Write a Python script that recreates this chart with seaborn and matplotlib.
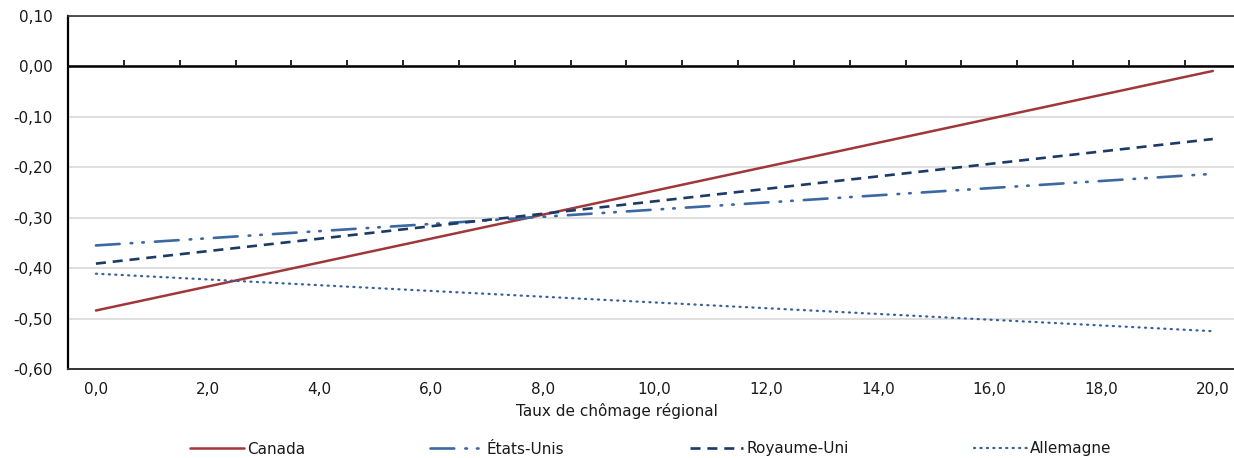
import matplotlib
matplotlib.use("Agg")
import matplotlib.pyplot as plt
import seaborn as sns
import pandas as pd

# values (straight lines, endpoints)
x_taux = [0, 20]
canada = [-0.484, -0.009]
etats_unis = [-0.355, -0.213]
royaume_uni = [-0.391, -0.144]
allemagne = [-0.411, -0.525]

x_ticks = [0, 2, 4, 6, 8, 10, 12, 14, 16, 18, 20]
x_labels = ["0,0", "2,0", "4,0", "6,0", "8,0", "10,0", "12,0", "14,0", "16,0", "18,0", "20,0"]
y_ticks = [-0.6, -0.5, -0.4, -0.3, -0.2, -0.1, 0.0, 0.1]
y_labels = ["-0,60", "-0,50", "-0,40", "-0,30", "-0,20", "-0,10", "0,00", "0,10"]
cat_ticks = [0.5, 1.5, 2.5, 3.5, 4.5, 5.5, 6.5, 7.5, 8.5, 9.5,
             10.5, 11.5, 12.5, 13.5, 14.5, 15.5, 16.5, 17.5, 18.5, 19.5]

series = {
    "Canada": canada,
    "États-Unis": etats_unis,
    "Royaume-Uni": royaume_uni,
    "Allemagne": allemagne,
}

styles = {
    "Canada": dict(color="#A0373A", linewidth=1.8, linestyle="-"),
    "États-Unis": dict(color="#3B68A0", linewidth=1.9,
                       linestyle=(0, (9, 4.2, 0.6, 3.8, 0.6, 4.2)),
                       dash_capstyle="round"),
    "Royaume-Uni": dict(color="#1B3A66", linewidth=1.9,
                        linestyle=(0, (3.8, 2.6))),
    "Allemagne": dict(color="#35609A", linewidth=1.6,
                      linestyle=(0, (0.5, 2.4)), dash_capstyle="round"),
}

sns.set_theme(style="white")
plt.rcParams["font.family"] = ["DejaVu Sans"]

fig = plt.figure(figsize=(12.34, 4.58), dpi=100)
ax = fig.add_axes([68 / 1234, 1 - 369 / 458, 1 - 68 / 1234, (369 - 16) / 458])

for name, values in series.items():
    df = pd.DataFrame({"x": x_taux, "y": values})
    sns.lineplot(data=df, x="x", y="y", ax=ax, label=name, **styles[name])

ax.set_xlim(-0.5, 20.38)
ax.set_ylim(-0.6, 0.1)

ax.set_xticks(x_ticks)
ax.set_xticklabels(x_labels, fontsize=11, color="#1a1a1a")
ax.set_yticks(y_ticks)
ax.set_yticklabels(y_labels, fontsize=11, color="#1a1a1a")
ax.tick_params(axis="x", length=0, pad=9)
ax.tick_params(axis="y", length=0, pad=11)
ax.set_xlabel("")
ax.set_ylabel("")

# light horizontal gridlines, black zero line
ax.grid(axis="y", color="#d9d9d9", linewidth=1.2)
ax.grid(axis="x", visible=False)
ax.axhline(0, color="black", linewidth=1.8, zorder=1.5)

for side in ["left", "bottom", "top"]:
    ax.spines[side].set_visible(True)
    ax.spines[side].set_color("black")
ax.spines["left"].set_linewidth(1.6)
ax.spines["bottom"].set_linewidth(1.4)
ax.spines["bottom"].set_color("#333333")
ax.spines["top"].set_linewidth(1.2)
ax.spines["top"].set_color("#333333")
ax.spines["right"].set_visible(False)

# category ticks between categories, on the zero line (pointing up)
zero_frac = (0 - (-0.6)) / 0.7
secax = ax.secondary_xaxis(zero_frac)
secax.set_xticks(cat_ticks)
secax.set_xticklabels([])
secax.tick_params(length=4, width=1.2, color="black", direction="out")
for sp in secax.spines.values():
    sp.set_visible(False)

fig.text(617 / 1234, 1 - 411 / 458, "Taux de chômage régional",
         ha="center", va="center", fontsize=11, color="#1a1a1a")

ax.legend(loc="center", bbox_to_anchor=(0.5, (369 - 449) / (369 - 16)),
          bbox_transform=ax.transAxes, ncol=4, frameon=False,
          fontsize=11, handlelength=3.5, handletextpad=0.2,
          columnspacing=8.2, labelcolor="#1a1a1a")

fig.savefig("out.png", dpi=100)
